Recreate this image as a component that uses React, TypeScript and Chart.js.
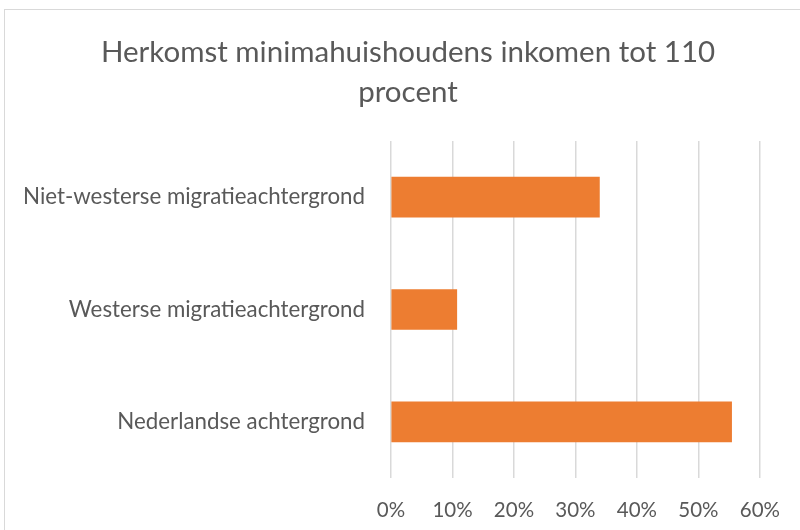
import React, { useEffect, useRef } from "react";
import { Chart, registerables } from "chart.js";

Chart.register(...registerables);

const categories = [
  "Niet-westerse migratieachtergrond",
  "Westerse migratieachtergrond",
  "Nederlandse achtergrond",
];
const values = [33.9, 10.7, 55.4];
const titleLines = ["Herkomst minimahuishoudens inkomen tot 110", "procent"];
const xMin = 0;
const xMax = 60;
const xStep = 10;

const titlePlugin = {
  id: "customTitle",
  afterDraw(chart: any) {
    const ctx = chart.ctx;
    ctx.save();
    ctx.fillStyle = "#595959";
    ctx.font = "normal 29.5px Lato";
    ctx.textAlign = "center";
    ctx.textBaseline = "middle";
    titleLines.forEach((line, i) => {
      ctx.fillText(line, 408, 52 + i * 40);
    });
    ctx.restore();
  },
};

export default function App() {
  const ref = useRef<HTMLCanvasElement | null>(null);
  useEffect(() => {
    if (!ref.current) return;
    const chart = new Chart(ref.current, {
      type: "bar",
      data: {
        labels: categories,
        datasets: [
          {
            data: values,
            backgroundColor: "#ED7D31",
            borderWidth: 0,
            barThickness: 40,
          },
        ],
      },
      plugins: [titlePlugin],
      options: {
        indexAxis: "y",
        animation: false,
        responsive: false,
        maintainAspectRatio: false,
        layout: { padding: { left: 0, right: 40, top: 141, bottom: 0 } },
        plugins: {
          legend: { display: false },
          tooltip: { enabled: false },
          title: { display: false },
        },
        scales: {
          x: {
            min: xMin,
            max: xMax,
            position: "bottom",
            ticks: {
              stepSize: xStep,
              color: "#595959",
              font: { family: "Lato", size: 20.5 },
              padding: 20,
              callback: (v: any) => v + "%",
            },
            grid: { color: "#d9d9d9", lineWidth: 1.5, drawTicks: false },
            border: { display: false },
            afterFit: (s: any) => {
              s.height = 52;
            },
          },
          y: {
            ticks: {
              color: "#595959",
              font: { family: "Lato", size: 22.3 },
              padding: 26,
            },
            grid: { display: false, drawTicks: false },
            border: { display: false },
            afterFit: (s: any) => {
              s.width = 391;
            },
          },
        },
      },
    });
    return () => chart.destroy();
  }, []);
  return (
    <div style={{ position: "absolute", left: 0, top: 0, width: 800, height: 530, background: "#fff", overflow: "hidden" }}>
      <div
        style={{
          position: "absolute",
          left: 4,
          top: 9,
          width: 820,
          height: 560,
          border: "1.5px solid #d9d9d9",
        }}
      />
      <canvas ref={ref} width={800} height={530} style={{ position: "absolute", left: 0, top: 0 }} />
    </div>
  );
}
